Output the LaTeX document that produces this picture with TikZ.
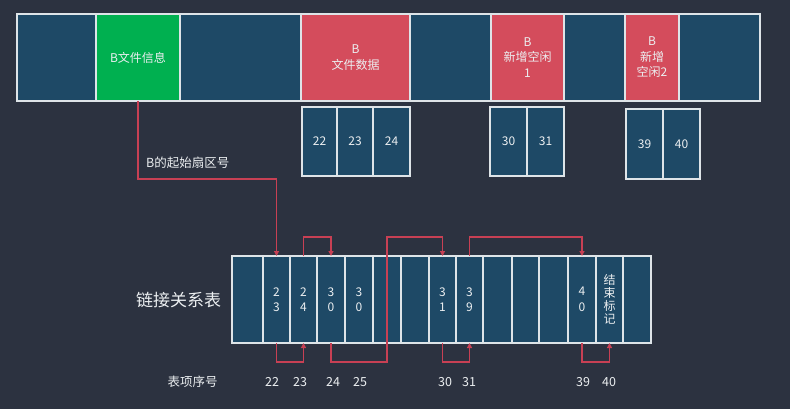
\documentclass[tikz,border=0pt]{standalone}
\usepackage{fontspec}
\newfontfamily\cjk{Noto Sans CJK SC}
\usetikzlibrary{arrows.meta,calc}
\definecolor{bg}{RGB}{44,50,64}
\definecolor{cellc}{RGB}{30,73,102}
\definecolor{grn}{RGB}{0,176,80}
\definecolor{redc}{RGB}{212,76,92}
\definecolor{edge}{RGB}{222,228,232}
\definecolor{lnk}{RGB}{200,64,84}
\definecolor{txt}{RGB}{236,239,241}
\begin{document}
\begin{tikzpicture}[x=1pt,y=-1pt,
  box/.style={draw=edge, line width=1.3pt, fill=cellc, inner sep=0pt, outer sep=0pt,
    text=txt, align=center, font=\cjk\fontsize{12}{15.5}\selectfont},
  wh/.style 2 args={minimum width=#1pt, minimum height=#2pt},
  gbox/.style={box, fill=grn},
  rbox/.style={box, fill=redc},
  lbl/.style={text=txt, inner sep=0pt, font=\cjk\fontsize{12.5}{15}\selectfont},
  link/.style={draw=lnk, line width=1.2pt},
  arr/.style={-{Triangle[length=5pt,width=5pt]}}
]
\fill[bg] (0,0) rectangle (790,409);
\useasboundingbox (0,0) rectangle (790,409);

% top strip
\node[box, wh={79}{87}] (t1) at (56.5,57.5) {};
\node[gbox, wh={84}{87}] (green) at (138,57.5) {B文件信息};
\node[box, wh={121}{87}] (t3) at (240.5,57.5) {};
\node[rbox, wh={109}{87}] (red1) at (355.5,57.5) {B\\文件数据};
\node[box, wh={81}{87}] (t5) at (450.5,57.5) {};
\node[rbox, wh={73}{87}] (red2) at (527.5,57.5) {B\\新增空闲\\1};
\node[box, wh={61}{87}] (t7) at (594.5,57.5) {};
\node[rbox, wh={54}{87}] (red3) at (652,57.5) {B\\新增\\空闲2};
\node[box, wh={81}{87}] (t9) at (719.5,57.5) {};

% sector boxes
\node[box, wh={35}{69}] (s22) at (319.5,141.5) {22};
\node[box, wh={36}{69}] (s23) at (355,141.5) {23};
\node[box, wh={37}{69}] (s24) at (391.5,141.5) {24};
\node[box, wh={37}{69}] (s30) at (508.5,141.5) {30};
\node[box, wh={37}{69}] (s31) at (545.5,141.5) {31};
\node[box, wh={37}{70}] (s39) at (644.5,144) {39};
\node[box, wh={37}{70}] (s40) at (681.5,144) {40};

% link table
\node[box, wh={31}{87}] (b0) at (247.5,299.5) {};
\node[box, wh={27}{87}] (b1) at (276.5,299.5) {2\\3};
\node[box, wh={27}{87}] (b2) at (303.5,299.5) {2\\4};
\node[box, wh={28}{87}] (b3) at (331,299.5) {3\\0};
\node[box, wh={28}{87}] (b4) at (359,299.5) {3\\0};
\node[box, wh={28}{87}] (b5) at (387,299.5) {};
\node[box, wh={28}{87}] (b6) at (415,299.5) {};
\node[box, wh={27}{87}] (b7) at (442.5,299.5) {3\\1};
\node[box, wh={27}{87}] (b8) at (469.5,299.5) {3\\9};
\node[box, wh={29}{87}] (b9) at (497.5,299.5) {};
\node[box, wh={27}{87}] (b10) at (525.5,299.5) {};
\node[box, wh={29}{87}] (b11) at (553.5,299.5) {};
\node[box, wh={28}{87}] (b12) at (582,299.5) {4\\0};
\node[box, wh={27}{87}, font=\cjk\fontsize{12}{13}\selectfont] (b13) at (609.5,299.5) {结\\束\\标\\记};
\node[box, wh={28}{87}] (b14) at (637,299.5) {};

% labels
\node[lbl, anchor=west] (startlbl) at (146,163) {B的起始扇区号};
\node[lbl, font=\cjk\fontsize{17}{20}\selectfont] (tbl) at (178.5,300) {链接关系表};
\node[lbl] (idx) at (192.5,382) {表项序号};
\node[lbl] (n22) at (272,382) {22};
\node[lbl] (n23) at (300,382) {23};
\node[lbl] (n24) at (333,382) {24};
\node[lbl] (n25) at (360,382) {25};
\node[lbl] (n30) at (445,382) {30};
\node[lbl] (n31) at (469,382) {31};
\node[lbl] (n39) at (583,382) {39};
\node[lbl] (n40) at (609,382) {40};

% connectors
\draw[link,arr] (green.south) -- ++(0,78) -| (b1.north);
\draw[link,arr] (b1.south) -- ++(0,19) -| (b2.south);
\draw[link,arr] (b2.north) -- ++(0,-19) -| (b3.north);
\draw[link,arr] (b3.south) -- ++(0,19) -| ($(b5.north)+(0,-19)$) -| (b7.north);
\draw[link,arr] (b7.south) -- ++(0,19) -| (b8.south);
\draw[link,arr] (b8.north) -- ++(0,-19) -| (b12.north);
\draw[link,arr] (b12.south) -- ++(0,19) -| (b13.south);
\end{tikzpicture}
\end{document}
